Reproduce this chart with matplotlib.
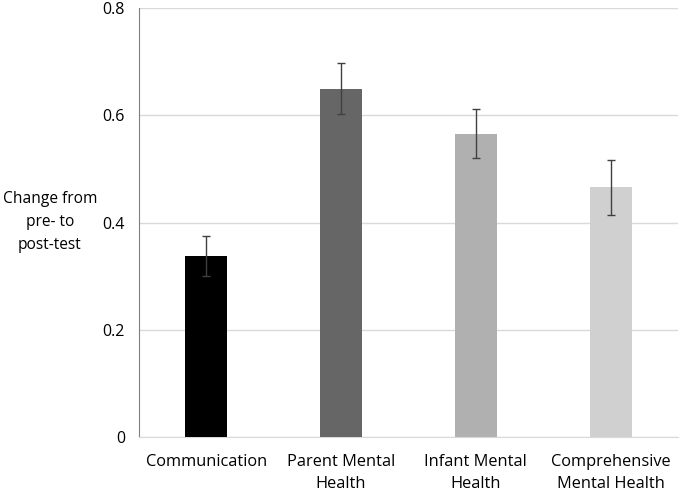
import matplotlib
matplotlib.use("Agg")
import matplotlib.pyplot as plt

categories = ["Communication", "Parent Mental\nHealth", "Infant Mental\nHealth", "Comprehensive\nMental Health"]
values = [0.338, 0.650, 0.566, 0.466]
errors = [0.037, 0.047, 0.046, 0.051]
colors = ["#000000", "#666666", "#b0b0b0", "#d0d0d0"]
yticks = [0, 0.2, 0.4, 0.6, 0.8]

plt.rcParams['font.family'] = ['Open Sans', 'DejaVu Sans']

fig = plt.figure(figsize=(6.81, 4.93), dpi=100)
ax = fig.add_axes([0.204, 0.1126, 0.7916, 0.8712])

x = range(len(categories))
ax.bar(x, values, width=0.31, color=colors, zorder=3)
ax.errorbar(x, values, yerr=errors, fmt="none", ecolor="#404040",
            elinewidth=1, capsize=3, capthick=1, zorder=4)

ax.set_xlim(-0.5, 3.5)
ax.set_ylim(0, 0.8)
ax.set_yticks(yticks)
ax.set_yticklabels(["0", "0.2", "0.4", "0.6", "0.8"])
ax.set_xticks(list(x))
ax.set_xticklabels(categories, linespacing=1.5)
ax.tick_params(axis="y", length=0, pad=10, labelsize=11.5, colors="#000000")
ax.tick_params(axis="x", length=0, pad=12, labelsize=11.8)
ax.yaxis.grid(True, color="#d9d9d9", linewidth=1, zorder=0)

for side in ["top", "right"]:
    ax.spines[side].set_visible(False)
ax.spines["left"].set_color("#808080")
ax.spines["bottom"].set_color("#d9d9d9")

fig.text(0.073, 0.5496, "Change from\npre- to\npost-test", ha="center", va="center",
         fontsize=11.2, linespacing=1.6)

fig.savefig("out.png", dpi=100)
